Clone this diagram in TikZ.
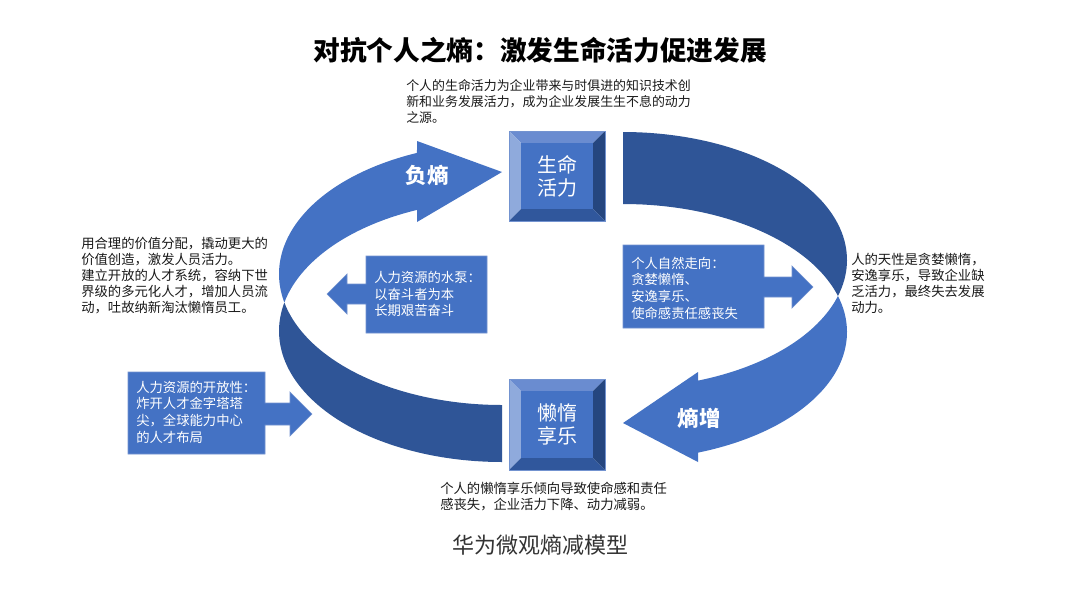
\documentclass[tikz,border=0pt]{standalone}
\usepackage{fontspec}
\setmainfont{Noto Sans CJK SC}
\definecolor{fillblue}{HTML}{4472C4}
\definecolor{darkband}{HTML}{2F5597}
\definecolor{bevL}{HTML}{8FAADC}
\definecolor{bevT}{HTML}{6A8CD0}
\definecolor{bevR}{HTML}{25467F}
\definecolor{bevB}{HTML}{30579C}
\definecolor{edgeblue}{HTML}{7393D0}
\definecolor{txt}{HTML}{1A1A1A}
\definecolor{captxt}{HTML}{333333}
\tikzset{
  note/.style={anchor=north west, inner sep=0pt, align=left, text=txt,
    font=\fontsize{10pt}{12pt}\selectfont},
  callouttext/.style={anchor=north west, inner sep=0pt, align=left, text=white,
    font=\fontsize{10pt}{12.5pt}\selectfont},
  calloutshape/.style={fill=fillblue, draw=edgeblue, line width=0.5pt},
  boxlabel/.style={inner sep=0pt, align=center, text=white,
    font=\fontsize{15pt}{17.3pt}\selectfont},
  arrowlabel/.style={inner sep=0pt, text=white, font=\fontsize{16pt}{18pt}\selectfont\bfseries},
}
\begin{document}
\begin{tikzpicture}[x=0.75pt,y=-0.75pt]
\useasboundingbox (0,0) rectangle (1080,608);
\fill[white] (0,0) rectangle (1080,608);

% title
\node[inner sep=0pt, font=\fontsize{20pt}{24pt}\selectfont\bfseries] (title) at (540,50) {对抗个人之熵：激发生命活力促进发展};

% left curved arrow (negative entropy)
\fill[darkband] plot[domain=192.57:90,samples=60] ({502+223*cos(\x)},{331+131*sin(\x)})
  -- plot[domain=90:167.43,samples=60] ({502+223*cos(\x)},{274+131*sin(\x)}) -- cycle;
\fill[fillblue] plot[domain=167.43:247.59,samples=60] ({502+223*cos(\x)},{274+131*sin(\x)})
  -- (417,141) -- (502,172) -- (417,222)
  -- plot[domain=247.59:192.57,samples=60] ({502+223*cos(\x)},{331+131*sin(\x)}) -- cycle;

% right curved arrow (entropy increase)
\fill[darkband] plot[domain=-90:16.33,samples=60] ({623+224*cos(\x)},{260+128*sin(\x)})
  -- plot[domain=-16.33:-90,samples=60] ({623+224*cos(\x)},{332+128*sin(\x)}) -- cycle;
\fill[fillblue] plot[domain=-16.33:70.44,samples=60] ({623+224*cos(\x)},{332+128*sin(\x)})
  -- (698,462) -- (623,423) -- (698,372)
  -- plot[domain=70.44:16.33,samples=60] ({623+224*cos(\x)},{260+128*sin(\x)}) -- cycle;

\node[arrowlabel] (neg) at (427,175) {负熵};
\node[arrowlabel] (inc) at (699,418) {熵增};

% bevel box: top
\fill[bevT] (509,131) -- (605,131) -- (593,143) -- (521,143) -- cycle;
\fill[bevL] (509,131) -- (521,143) -- (521,209) -- (509,221) -- cycle;
\fill[bevR] (605,131) -- (605,221) -- (593,209) -- (593,143) -- cycle;
\fill[bevB] (509,221) -- (605,221) -- (593,209) -- (521,209) -- cycle;
\fill[fillblue] (521,143) rectangle (593,209);
\draw[edgeblue, line width=0.5pt] (509,131) rectangle (605,221);
\node[boxlabel] (life) at (557,176) {生命\\活力};

% bevel box: bottom
\fill[bevT] (509,379) -- (605,379) -- (593,391) -- (521,391) -- cycle;
\fill[bevL] (509,379) -- (521,391) -- (521,458) -- (509,470) -- cycle;
\fill[bevR] (605,379) -- (605,470) -- (593,458) -- (593,391) -- cycle;
\fill[bevB] (509,470) -- (605,470) -- (593,458) -- (521,458) -- cycle;
\fill[fillblue] (521,391) rectangle (593,458);
\draw[edgeblue, line width=0.5pt] (509,379) rectangle (605,470);
\node[boxlabel] (lazy) at (557,424.5) {懒惰\\享乐};

% callout: left (arrow right)
\path[calloutshape] (128,372) -- (265,372) -- (265,403) -- (290,403) -- (290,392) -- (312,414)
  -- (290,436) -- (290,425) -- (265,425) -- (265,454) -- (128,454) -- cycle;
\node[callouttext] (open) at (136,380.5) {人力资源的开放性：\\炸开人才金字塔塔\\尖，全球能力中心\\的人才布局};

% callout: middle left (arrow left)
\path[calloutshape] (487,256) -- (487,333) -- (366,333) -- (366,304) -- (347,304) -- (347,314)
  -- (327,294) -- (347,274) -- (347,284) -- (366,284) -- (366,256) -- cycle;
\node[callouttext] (pump) at (374,271) {人力资源的水泵：\\以奋斗者为本\\长期艰苦奋斗};

% callout: right (arrow right)
\path[calloutshape] (623,245) -- (764,245) -- (764,277) -- (792,277) -- (792,266) -- (813,287)
  -- (792,308) -- (792,297) -- (764,297) -- (764,328) -- (623,328) -- cycle;
\node[callouttext] (nature) at (631,256.5) {个人自然走向：\\贪婪懒惰、\\安逸享乐、\\使命感责任感丧失};

% notes
\node[note, font=\fontsize{9.7pt}{12pt}\selectfont] (topnote) at (406,79) {个人的生命活力为企业带来与时俱进的知识技术创\\新和业务发展活力，成为企业发展生生不息的动力\\之源。};
\node[note] (leftnote) at (81,236.5) {用合理的价值分配，撬动更大的\\价值创造，激发人员活力。\\建立开放的人才系统，容纳下世\\界级的多元化人才，增加人员流\\动，吐故纳新淘汰懒惰员工。};
\node[note] (rightnote) at (851,252.5) {人的天性是贪婪懒惰，\\安逸享乐，导致企业缺\\乏活力，最终失去发展\\动力。};
\node[note] (bottomnote) at (440,481.5) {个人的懒惰享乐倾向导致使命感和责任\\感丧失，企业活力下降、动力减弱。};

% caption
\node[inner sep=0pt, text=captxt, font=\fontsize{16.5pt}{20pt}\selectfont] (caption) at (540,545) {华为微观熵减模型};
\end{tikzpicture}
\end{document}
